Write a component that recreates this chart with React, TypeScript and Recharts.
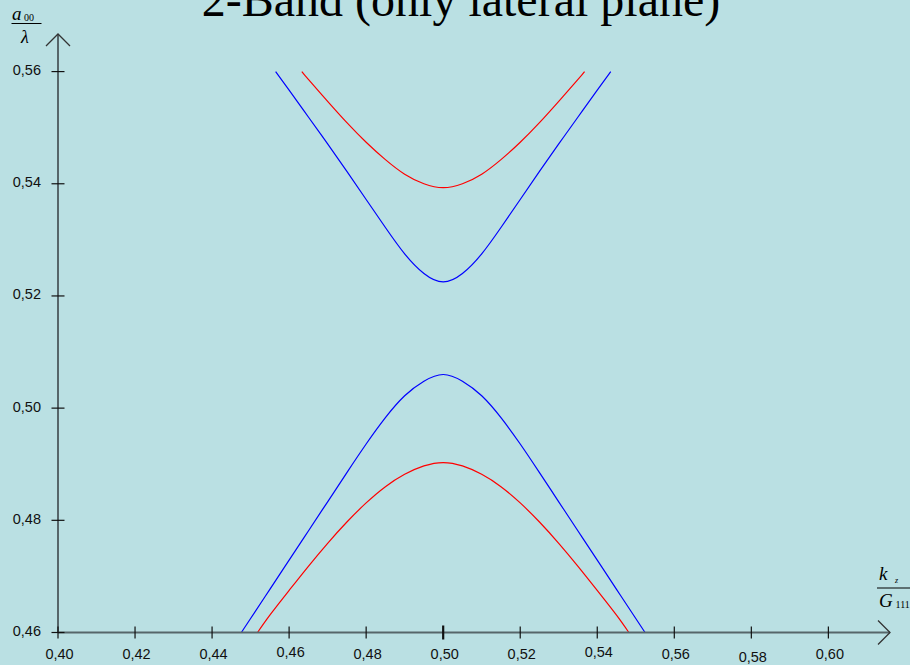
import React from 'react';
import { LineChart, Line, XAxis, YAxis, ReferenceDot } from 'recharts';

// ---- data ----
const K_BLUE_UPPER = [0.4565, 0.46, 0.465, 0.47, 0.475, 0.48, 0.485, 0.49, 0.495, 0.5, 0.505, 0.51, 0.515, 0.52, 0.525, 0.53, 0.535, 0.54, 0.5435];
const V_BLUE_UPPER = [0.56, 0.5567, 0.5519, 0.5471, 0.5422, 0.5372, 0.5322, 0.5275, 0.524, 0.5225, 0.524, 0.5275, 0.5322, 0.5372, 0.5422, 0.5471, 0.5519, 0.5567, 0.56];

const K_RED_UPPER = [0.4633, 0.465, 0.47, 0.475, 0.48, 0.485, 0.49, 0.495, 0.5, 0.505, 0.51, 0.515, 0.52, 0.525, 0.53, 0.535, 0.5367];
const V_RED_UPPER = [0.56, 0.5586, 0.5547, 0.5509, 0.5474, 0.5443, 0.5417, 0.54, 0.5393, 0.54, 0.5417, 0.5443, 0.5474, 0.5509, 0.5547, 0.5586, 0.56];

const K_BLUE_LOWER = [0.4476, 0.45, 0.455, 0.46, 0.465, 0.47, 0.475, 0.48, 0.485, 0.49, 0.495, 0.5, 0.505, 0.51, 0.515, 0.52, 0.525, 0.53, 0.535, 0.54, 0.545, 0.55, 0.5524];
const V_BLUE_LOWER = [0.46, 0.4625, 0.4677, 0.4729, 0.4781, 0.4833, 0.4885, 0.4936, 0.4983, 0.5022, 0.5048, 0.506, 0.5048, 0.5022, 0.4983, 0.4936, 0.4885, 0.4833, 0.4781, 0.4729, 0.4677, 0.4625, 0.46];

const K_RED_LOWER = [0.4518, 0.455, 0.46, 0.465, 0.47, 0.475, 0.48, 0.485, 0.49, 0.495, 0.5, 0.505, 0.51, 0.515, 0.52, 0.525, 0.53, 0.535, 0.54, 0.545, 0.5482];
const V_RED_LOWER = [0.46, 0.4631, 0.4675, 0.4718, 0.4759, 0.4797, 0.4831, 0.486, 0.4882, 0.4897, 0.4903, 0.4897, 0.4882, 0.486, 0.4831, 0.4797, 0.4759, 0.4718, 0.4675, 0.4631, 0.46];

const X_TICKS = [0.4, 0.42, 0.44, 0.46, 0.48, 0.5, 0.52, 0.54, 0.56, 0.58, 0.6];
const Y_TICKS = [0.46, 0.48, 0.5, 0.52, 0.54, 0.56];
const X_DOMAIN: [number, number] = [0.4, 0.616];
const Y_DOMAIN: [number, number] = [0.46, 0.5667];

const TITLE = '2-Band (only lateral plane)';

const zip = (ks: number[], vs: number[]) => ks.map((k, i) => ({ k, v: vs[i] }));
const blueUpper = zip(K_BLUE_UPPER, V_BLUE_UPPER);
const redUpper = zip(K_RED_UPPER, V_RED_UPPER);
const blueLower = zip(K_BLUE_LOWER, V_BLUE_LOWER);
const redLower = zip(K_RED_LOWER, V_RED_LOWER);

const BG = '#bae0e3';
const AXIS = '#56666a';
const LABEL_FONT = '"Liberation Sans", Arial, sans-serif';
const SERIF = '"Liberation Serif", "Times New Roman", serif';

const X_LABEL_DY: Record<string, number> = { '0.46': -2.3, '0.54': -2.5, '0.58': 2.7 };

const fmt = (v: number) => v.toFixed(2).replace('.', ',');

const XTick = (props: any) => {
  const { x, y, payload } = props;
  const v: number = payload.value;
  const bold = Math.abs(v - 0.5) < 1e-9;
  const dy = X_LABEL_DY[v.toFixed(2)] ?? 0;
  return (
    <g>
      <line x1={x} x2={x} y1={y - (bold ? 7 : 6)} y2={y + (bold ? 7 : 6)} stroke="#111" strokeWidth={bold ? 2.2 : 1.2} />
      <text x={x + 1.5} y={y + 26.5 + dy} textAnchor="middle" fontFamily={LABEL_FONT} fontSize={14.5} fill="#111">
        {fmt(v)}
      </text>
    </g>
  );
};

const YTick = (props: any) => {
  const { x, y, payload } = props;
  const v: number = payload.value;
  return (
    <g>
      <line x1={x - 6.5} x2={x + 6.5} y1={y} y2={y} stroke="#111" strokeWidth={1.2} />
      <text x={x - 17} y={y + 3.5} textAnchor="end" fontFamily={LABEL_FONT} fontSize={14.5} fill="#111">
        {fmt(v)}
      </text>
    </g>
  );
};

const ArrowRight = (p: any) => (
  <path d={`M${p.cx - 12},${p.cy - 12} L${p.cx},${p.cy} L${p.cx - 12},${p.cy + 12}`} fill="none" stroke="#333" strokeWidth={1.3} />
);
const ArrowUp = (p: any) => (
  <path d={`M${p.cx - 12},${p.cy + 12} L${p.cx},${p.cy} L${p.cx + 12},${p.cy + 12}`} fill="none" stroke="#333" strokeWidth={1.3} />
);

export default function App() {
  return (
    <div style={{ position: 'absolute', left: 0, top: 0, width: 910, height: 665, background: BG, overflow: 'hidden' }}>
      <div style={{ position: 'absolute', left: 0, top: 0 }}>
        <LineChart width={910} height={665} margin={{ top: 34, right: 20, bottom: 0, left: 0 }}>
          <XAxis
            type="number"
            dataKey="k"
            domain={X_DOMAIN}
            ticks={X_TICKS}
            interval={0}
            allowDataOverflow
            height={32.5}
            axisLine={{ stroke: AXIS, strokeWidth: 2 }}
            tickLine={false}
            tickSize={0}
            tickMargin={0}
            tick={<XTick />}
          />
          <YAxis
            type="number"
            dataKey="v"
            domain={Y_DOMAIN}
            ticks={Y_TICKS}
            interval={0}
            allowDataOverflow
            width={58}
            axisLine={{ stroke: AXIS, strokeWidth: 2 }}
            tickLine={false}
            tickSize={0}
            tickMargin={0}
            tick={<YTick />}
          />
          <Line data={blueUpper} dataKey="v" type="natural" stroke="#0000ff" strokeWidth={1.2} dot={false} isAnimationActive={false} />
          <Line data={redUpper} dataKey="v" type="natural" stroke="#ff0000" strokeWidth={1.2} dot={false} isAnimationActive={false} />
          <Line data={blueLower} dataKey="v" type="natural" stroke="#0000ff" strokeWidth={1.2} dot={false} isAnimationActive={false} />
          <Line data={redLower} dataKey="v" type="natural" stroke="#ff0000" strokeWidth={1.2} dot={false} isAnimationActive={false} />
          <ReferenceDot x={X_DOMAIN[1]} y={Y_DOMAIN[0]} r={0} ifOverflow="visible" shape={ArrowRight} />
          <ReferenceDot x={X_DOMAIN[0]} y={Y_DOMAIN[1]} r={0} ifOverflow="visible" shape={ArrowUp} />
        </LineChart>
      </div>
      <svg width={910} height={665} style={{ position: 'absolute', left: 0, top: 0, pointerEvents: 'none' }}>
        <text x={461} y={16} textAnchor="middle" fontFamily={SERIF} fontSize={48} fill="#000">{TITLE}</text>
        {/* y axis label a00 / lambda */}
        <text x={12} y={20} fontFamily={SERIF} fontStyle="italic" fontSize={19} fill="#000">a</text>
        <text x={24} y={21} fontFamily={SERIF} fontSize={10} fill="#000">00</text>
        <line x1={11.5} x2={41.5} y1={23.5} y2={23.5} stroke="#000" strokeWidth={1} />
        <text x={21} y={43} fontFamily={SERIF} fontStyle="italic" fontSize={18} fill="#000">λ</text>
        {/* x axis label kz / G111 */}
        <text x={879} y={580} fontFamily={SERIF} fontStyle="italic" fontSize={19} fill="#000">k</text>
        <text x={895} y={583} fontFamily={SERIF} fontStyle="italic" fontSize={8} fill="#000">z</text>
        <line x1={877} x2={912} y1={588} y2={588} stroke="#000" strokeWidth={1} />
        <text x={879} y={607} fontFamily={SERIF} fontStyle="italic" fontSize={19} fill="#000">G</text>
        <text x={895.5} y={608} fontFamily={SERIF} fontSize={10} fill="#000">111</text>
      </svg>
    </div>
  );
}
